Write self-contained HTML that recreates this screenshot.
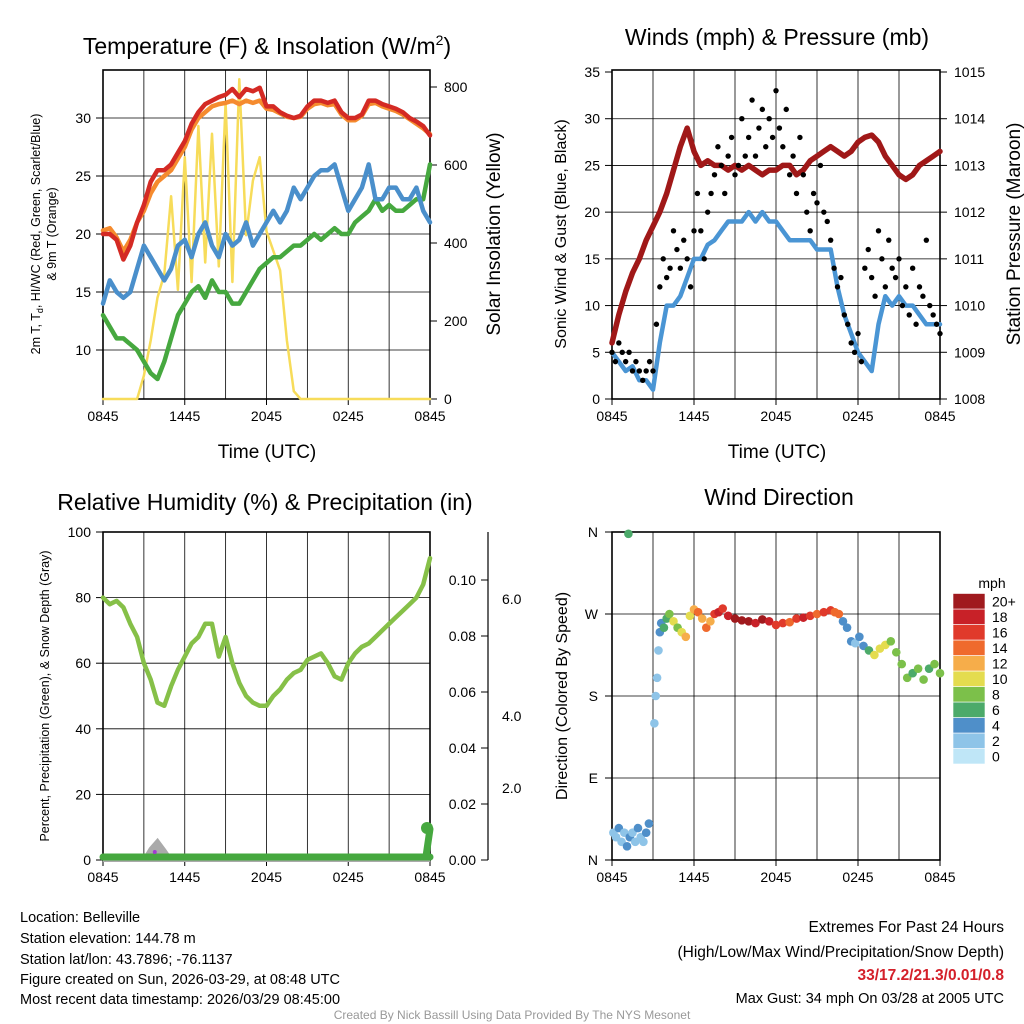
<!DOCTYPE html>
<html><head><meta charset="utf-8"><style>
body{margin:0;background:#fff}
svg{display:block;font-family:"Liberation Sans",sans-serif}
</style></head><body>
<svg id="svg" width="1024" height="1024" viewBox="0 0 1024 1024" xmlns="http://www.w3.org/2000/svg">
<g id="g1"></g>
<g id="g2"></g>
<g id="g3"></g>
<g id="g4"></g>
<text x="267" y="54" font-size="23" text-anchor="middle">Temperature (F) &amp; Insolation (W/m<tspan dy="-9" font-size="14">2</tspan><tspan dy="9">)</tspan></text>
<text x="777" y="45" font-size="23" text-anchor="middle">Winds (mph) &amp; Pressure (mb)</text>
<text x="265" y="510" font-size="23" text-anchor="middle">Relative Humidity (%) &amp; Precipitation (in)</text>
<text x="779" y="505" font-size="23" text-anchor="middle">Wind Direction</text>
<text x="267" y="458" font-size="19" text-anchor="middle">Time (UTC)</text>
<text x="777" y="458" font-size="19" text-anchor="middle">Time (UTC)</text>
<text transform="translate(40,234) rotate(-90)" font-size="12.5" text-anchor="middle">2m T, T<tspan font-size="9" dy="3">d</tspan><tspan dy="-3">, HI/WC (Red, Green, Scarlet/Blue)</tspan></text>
<text transform="translate(56,234) rotate(-90)" font-size="12.5" text-anchor="middle">&amp; 9m T (Orange)</text>
<text transform="translate(500,234) rotate(-90)" font-size="19" text-anchor="middle">Solar Insolation (Yellow)</text>
<text transform="translate(566,234) rotate(-90)" font-size="16" text-anchor="middle">Sonic Wind &amp; Gust (Blue, Black)</text>
<text transform="translate(1020,234) rotate(-90)" font-size="19" text-anchor="middle">Station Pressure (Maroon)</text>
<text transform="translate(49,696) rotate(-90)" font-size="12.5" text-anchor="middle">Percent, Precipitation (Green), &amp; Snow Depth (Gray)</text>
<text transform="translate(567,696) rotate(-90)" font-size="16" text-anchor="middle">Direction (Colored By Speed)</text>
<text x="992" y="588" font-size="14" text-anchor="middle">mph</text>
<g font-size="14.5">
<text x="20" y="922">Location: Belleville</text>
<text x="20" y="943">Station elevation: 144.78 m</text>
<text x="20" y="964">Station lat/lon: 43.7896; -76.1137</text>
<text x="20" y="984">Figure created on Sun, 2026-03-29, at 08:48 UTC</text>
<text x="20" y="1004">Most recent data timestamp: 2026/03/29 08:45:00</text>
</g>
<g font-size="15.5" text-anchor="end">
<text x="1004" y="932">Extremes For Past 24 Hours</text>
<text x="1004" y="957">(High/Low/Max Wind/Precipitation/Snow Depth)</text>
<text x="1004" y="980" fill="#d4202a" font-weight="bold">33/17.2/21.3/0.01/0.8</text>
<text x="1004" y="1003" font-size="14.5">Max Gust: 34 mph On 03/28 at 2005 UTC</text>
</g>
<text x="512" y="1019" font-size="12" fill="#999" text-anchor="middle">Created By Nick Bassill Using Data Provided By The NYS Mesonet</text>
</svg>
<script>
// ---- data (hourly steps of 0.5h from 0845 UTC) ----
const hours = [0,0.5,1,1.5,2,2.5,3,3.5,4,4.5,5,5.5,6,6.5,7,7.5,8,8.5,9,9.5,10,10.5,11,11.5,12,12.5,13,13.5,14,14.5,15,15.5,16,16.5,17,17.5,18,18.5,19,19.5,20,20.5,21,21.5,22,22.5,23,23.5,24];
const timeTicks = ["0845","1445","2045","0245","0845"];
const tempRed = [20,20,19.5,17.8,19,21,22.5,24.5,25.5,25.5,26,27,28,29.5,30.5,31.2,31.5,31.8,32,32.5,31.8,32.5,32.3,32.6,31,31,30.5,30.2,30,30.2,31,31.5,31.5,31.3,31.5,30.5,30,30,30.3,31.5,31.5,31.2,31,30.8,30.5,30,29.7,29.3,28.5];
const tempOrange = [20.3,20.5,19.7,18.5,19.5,21,22,23.5,24.5,25,25.5,26.5,27.5,29,30,30.5,31,31.2,31.3,31.5,31.2,31.5,31.3,31.5,30.8,30.7,30.4,30.1,30,30.1,30.8,31.2,31.3,31.1,31.2,30.3,29.8,29.8,30.2,31.2,31.3,31,30.8,30.6,30.3,29.9,29.5,29.1,28.6];
const tempBlue = [14,16,15,14.5,15,17,19,18,17,16,17,19,19.5,18,20,21,19,18,20,19,19.5,21,19,20,21,22,21,22,24,23,24,25,25.5,25.5,26,24,22,23,24,26,23,23,24,24,23,23,24,22,21];
const tempGreen = [13,12,11,11,10.5,10,9,8,7.5,9,11,13,14,15,15.5,14.5,16,15,15,14,14,15,16,17,17.5,18,18,18.5,19,19,19.5,20,19.5,20,20.5,20,20,21,21.5,22,23,22,22.5,22,22,22.5,23,23,26];
const insolation = [0,0,0,0,0,0,60,150,260,320,520,280,620,300,700,350,680,340,760,300,820,420,560,620,430,380,330,150,20,0,0,0,0,0,0,0,0,0,0,0,0,0,0,0,0,0,0,0,0];
const tempTicks = [10,15,20,25,30];
const solarTicks = [0,200,400,600,800];
const windSpeed = [5,4,3,3.5,2,2,1,6,10,10,11,13,15,15,16.5,17,18,19,19,19,20,19,20,19,19,18,17,17,17,17,16,16,16,12,9,7,5,4,3,8,11,10,11,10,10,9,8,8,8];
const pressure = [1009.2,1009.8,1010.3,1010.7,1011,1011.4,1011.7,1012,1012.4,1012.9,1013.4,1013.8,1013.3,1013.0,1013.1,1013.0,1013.0,1012.9,1013.0,1012.9,1013.0,1012.9,1012.8,1012.9,1012.9,1013.0,1013.0,1012.8,1012.9,1013.1,1013.2,1013.3,1013.4,1013.3,1013.2,1013.3,1013.5,1013.6,1013.65,1013.5,1013.2,1013.0,1012.8,1012.7,1012.8,1013.0,1013.1,1013.2,1013.3];
const gusts = [5,4,6,5,4,5,3,4,3,2,3,4,3,8,12,15,13,14,18,16,14,17,15,12,18,22,18,15,20,22,24,27,25,22,26,28,24,25,30,26,28,32,26,29,31,27,30,28,33,29,27,31,24,26,22,28,24,20,18,22,21,25,20,19,17,14,12,13,9,8,6,5,7,4,14,16,13,11,18,15,12,17,14,13,15,10,12,9,14,8,12,11,17,10,9,8,7];
const windTicks = [0,5,10,15,20,25,30,35];
const pressTicks = [1008,1009,1010,1011,1012,1013,1014,1015];
const rh = [80,78,79,77,72,68,60,55,48,47,53,58,62,66,68,72,72,62,68,60,54,50,48,47,47,50,52,55,57,58,61,62,63,60,56,55,60,63,65,66,68,70,72,74,76,78,80,84,92];
const snow = [0,0,0,0,0,0,0,1.6,2.7,1.4,0,0,0,0,0,0,0,0,0,0,0,0,0,0,0,0,0,0,0,0,0,0,0,0,0,0,0,0,0,0,0,0,0,0,0,0,0,0,0];
const rhTicks = [0,20,40,60,80,100];
const precipTicks = ["0.00","0.02","0.04","0.06","0.08","0.10"];
const snowTicks = ["2.0","4.0","6.0"];
const dirTimes = [0.1,0.3,0.5,0.7,0.9,1.1,1.3,1.5,1.7,1.9,2.1,2.3,2.5,2.7,3.1,3.2,3.3,3.4,3.5,3.6,3.8,4.0,4.2,4.5,4.8,5.1,5.4,5.7,6.0,6.3,6.6,6.9,7.2,7.5,7.8,8.1,8.5,9,9.5,10,10.5,11,11.5,12,12.5,13,13.5,14,14.5,15,15.5,16,16.3,16.6,16.9,17.2,17.5,17.8,18.1,18.4,18.8,19.2,19.6,20,20.4,20.8,21.2,21.6,22,22.4,22.8,23.2,23.6,24,1.2];
const dirs = [30,25,35,20,30,15,25,30,20,35,25,20,30,40,150,180,200,230,250,260,255,265,270,262,255,250,245,268,275,272,265,255,262,270,272,276,268,265,263,262,260,264,262,258,260,261,265,266,268,270,272,274,272,270,262,255,240,238,245,235,230,225,232,236,240,228,215,200,205,210,198,210,215,205,358];
const dirSpeeds = [2,2,3,2,2,3,3,2,2,3,2,2,3,3,1,1,2,2,3,4,5,6,7,9,8,10,11,10,12,13,11,14,12,16,17,15,18,20,21,20,18,19,17,16,15,14,16,17,15,14,16,15,14,13,4,4,3,2,3,4,5,10,9,10,8,8,7,8,6,7,8,6,7,7,6];
const speedBins = ["0","2","4","6","8","10","12","14","16","18","20+"];
const dirLabels = ["N","E","S","W","N"];

const NS='http://www.w3.org/2000/svg';
function mk(parent,tag,attrs){const e=document.createElementNS(NS,tag);for(const k in attrs)e.setAttribute(k,attrs[k]);parent.appendChild(e);return e;}
function txt(parent,x,y,s,size,anchor){const e=mk(parent,'text',{x:x,y:y,'font-size':size,'text-anchor':anchor});e.textContent=s;return e;}
const colors=['#bfe6f7','#8ec4e8','#4f8fc9','#4caa6a','#7cc04a','#e4dc4f','#f6ad4a','#ef6a2d','#e03a2b','#c82128','#a01a1e'];
function spColor(s){return colors[Math.min(10,Math.max(0,Math.round(s/2)))];}

function frame(g,L,T,R,B,nameX){
  // grid
  for(let i=1;i<8;i++){const x=L+(R-L)*i/8;mk(g,'line',{x1:x,x2:x,y1:T,y2:B,stroke:'#000','stroke-width':0.8});}
  const rect=mk(g,'rect',{x:L,y:T,width:R-L,height:B-T,fill:'none',stroke:'#000','stroke-width':1.6});
  
  
  timeTicks.forEach((t,i)=>{const x=L+(R-L)*i/4;mk(g,'line',{x1:x,x2:x,y1:B,y2:B+6,stroke:'#000'});
    const e=txt(g,x,B+22,t,14,'middle');
    
    });
}
function line(g,xs,ys,xf,yf,color,w,name){
  const d=xs.map((x,i)=>(i?'L':'M')+xf(x).toFixed(1)+','+yf(ys[i]).toFixed(1)).join('');
  const p=mk(g,'path',{d:d,fill:'none',stroke:color,'stroke-width':w,'stroke-linejoin':'round','stroke-linecap':'round'});
  
  
}

// ---- Panel 1 ----
(function(){
 const g=document.getElementById('g1');const L=103,R=430,T=70,B=399;
 const x=h=>L+(R-L)*h/24; const y=v=>350-(v-10)*11.6; const ys=v=>399-v*0.39;
 tempTicks.forEach(v=>{mk(g,'line',{x1:L,x2:R,y1:y(v),y2:y(v),stroke:'#000','stroke-width':0.8});mk(g,'line',{x1:L-7,x2:L,y1:y(v),y2:y(v),stroke:'#000'});
   const e=txt(g,L-12,y(v)+5,String(v),14,'end');});
 solarTicks.forEach(v=>{mk(g,'line',{x1:R,x2:R+7,y1:ys(v),y2:ys(v),stroke:'#000'});
   const e=txt(g,R+14,ys(v)+5,String(v),14,'start');});
 frame(g,L,T,R,B);
 line(g,hours,insolation,x,ys,'#f7dc5a',2.5,'insolation-line');
 line(g,hours,tempGreen,x,y,'#46a83f',4.5,'dewpoint-line');
 line(g,hours,tempBlue,x,y,'#4a8fcb',4.5,'windchill-line');
 line(g,hours,tempOrange,x,y,'#f58b2e',4.5,'temp-9m-line');
 line(g,hours,tempRed,x,y,'#d42a24',4.5,'temp-2m-line');
})();

// ---- Panel 2 ----
(function(){
 const g=document.getElementById('g2');const L=612,R=940,T=70,B=399;
 const x=h=>L+(R-L)*h/24; const y=v=>B-v*(B-72)/35; const yp=v=>B-(v-1008)*(B-72)/7;
 windTicks.forEach(v=>{if(v>0&&v<35)mk(g,'line',{x1:L,x2:R,y1:y(v),y2:y(v),stroke:'#000','stroke-width':0.8});mk(g,'line',{x1:L-7,x2:L,y1:y(v),y2:y(v),stroke:'#000'});
   const e=txt(g,L-12,y(v)+5,String(v),14,'end');});
 pressTicks.forEach(v=>{mk(g,'line',{x1:R,x2:R+7,y1:yp(v),y2:yp(v),stroke:'#000'});
   const e=txt(g,R+14,yp(v)+5,String(v),14,'start');});
 frame(g,L,T,R,B);
 line(g,hours,windSpeed,x,y,'#4a95d4',4.5,'wind-speed-line');
 line(g,hours,pressure,x,yp,'#a01818',5.5,'pressure-line');
 gusts.forEach((v,i)=>{const c=mk(g,'circle',{cx:x(i*0.25),cy:y(v),r:2.7,fill:'#000'});
   
   });
})();

// ---- Panel 3 ----
(function(){
 const g=document.getElementById('g3');const L=103,R=430,T=532,B=860;
 const x=h=>L+(R-L)*h/24; const y=v=>B-v*(B-T)/100;
 rhTicks.forEach(v=>{if(v>0&&v<100)mk(g,'line',{x1:L,x2:R,y1:y(v),y2:y(v),stroke:'#000','stroke-width':0.8});mk(g,'line',{x1:L-7,x2:L,y1:y(v),y2:y(v),stroke:'#000'});
   const e=txt(g,L-12,y(v)+5,String(v),14,'end');});
 // precip axis
 mk(g,'line',{x1:488,x2:488,y1:532,y2:860,stroke:'#000','stroke-width':1.2});
 precipTicks.forEach((t,i)=>{const yy=860-i*56;mk(g,'line',{x1:481,x2:488,y1:yy,y2:yy,stroke:'#000'});
   const e=txt(g,476,yy+5,t,14,'end');});
 const snowY=[788,716,599];
 snowTicks.forEach((t,i)=>{const e=txt(g,502,snowY[i]+5,t,14,'start');});
 frame(g,L,T,R,B);
 // snow area
 const d='M'+x(0)+','+B+hours.map((h,i)=>'L'+x(h).toFixed(1)+','+(B-snow[i]*7).toFixed(1)).join('')+'L'+x(24)+','+B+'Z';
 const s=mk(g,'path',{d:d,fill:'#aaa',stroke:'#aaa','stroke-width':4});
 
 
 line(g,hours,rh,x,y,'#86c048',4.5,'rh-line');
 line(g,[0,23.8,24],[0,0,0],x,v=>B-3,'#46a83f',7,'precip-line');
 line(g,[23.7,24],[0,0.01],x,v=>B-3-v*2800,'#46a83f',7,'precip-rise');
 const c=mk(g,'circle',{cx:x(24)-3,cy:828,r:6,fill:'#46a83f'});
 const c2=mk(g,'circle',{cx:x(3.8),cy:852,r:2,fill:'#a23ad0'});
})();

// ---- Panel 4 ----
(function(){
 const g=document.getElementById('g4');const L=612,R=940,T=532,B=860;
 const x=h=>L+(R-L)*h/24; const y=d=>B-d*(B-T)/360;
 dirLabels.forEach((t,i)=>{const yy=B-i*(B-T)/4;if(i>0&&i<4)mk(g,'line',{x1:L,x2:R,y1:yy,y2:yy,stroke:'#000','stroke-width':0.8});mk(g,'line',{x1:L-7,x2:L,y1:yy,y2:yy,stroke:'#000'});
   const e=txt(g,L-14,yy+5,t,14,'end');});
 frame(g,L,T,R,B);
 dirTimes.forEach((h,i)=>{const c=mk(g,'circle',{cx:x(h),cy:y(dirs[i]),r:4.3,fill:spColor(dirSpeeds[i])});
   
   });
 // colorbar
 const cb=mk(g,'g',{});
 speedBins.forEach((t,i)=>{const yy=764-(i+1)*15.5;mk(cb,'rect',{x:953,y:yy,width:32,height:15.5,fill:colors[i],stroke:'#fff','stroke-width':0.6});
   const e=txt(cb,992,yy+13,t,14,'start');});
})();
</script>
</body></html>
